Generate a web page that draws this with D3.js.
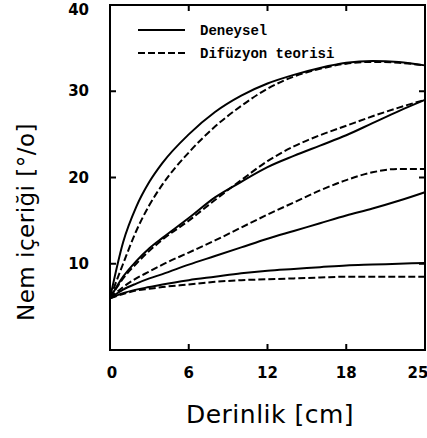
<!DOCTYPE html>
<html>
<head>
<meta charset="utf-8">
<script src="https://cdn.jsdelivr.net/npm/d3@7"></script>
<style>
  html, body { margin: 0; padding: 0; background: #fff; }
  svg { display: block; }
</style>
</head>
<body>
<div id="chart"></div>
<script>
// depth [cm] sampled along the curves
var depth = [0, 1, 2, 3, 4, 6, 8, 10, 12, 14, 16, 18, 20, 22, 24];

// moisture content [%] - experimental (solid) and diffusion theory (dashed)
var exp1 = [6, 12.5, 16.6, 19.5, 21.7, 25.0, 27.6, 29.5, 30.9, 31.9, 32.7, 33.3, 33.5, 33.4, 33.0];
var th1  = [6, 10.0, 13.8, 16.8, 19.2, 22.9, 25.9, 28.3, 30.3, 31.7, 32.6, 33.2, 33.4, 33.3, 33.0];
var exp2 = [6, 8.5, 10.3, 11.8, 13.0, 15.3, 17.7, 19.5, 21.2, 22.5, 23.7, 24.9, 26.3, 27.7, 29.0];
var th2  = [6, 8.3, 10.0, 11.5, 12.8, 15.0, 17.4, 19.7, 21.9, 23.6, 24.9, 26.0, 27.1, 28.1, 29.0];
var exp3 = [6, 7.0, 7.7, 8.3, 8.8, 9.9, 10.9, 11.9, 12.9, 13.8, 14.7, 15.6, 16.4, 17.3, 18.3];
var th3  = [6, 7.3, 8.3, 9.1, 9.9, 11.3, 12.7, 14.2, 15.7, 17.1, 18.5, 19.7, 20.6, 21.0, 21.0];
var exp4 = [6, 6.6, 7.0, 7.3, 7.6, 8.1, 8.5, 8.9, 9.2, 9.4, 9.6, 9.8, 9.9, 10.0, 10.1];
var th4  = [6, 6.5, 6.9, 7.1, 7.3, 7.6, 7.9, 8.1, 8.2, 8.3, 8.4, 8.5, 8.5, 8.5, 8.5];

var xTicks = [0, 6, 12, 18, 24];
var xTickLabels = ["0", "6", "12", "18", "25"];
var yTicks = [10, 20, 30, 40];
var yTickLabels = ["10", "20", "30", "40"];

var legendNames = ["Deneysel", "Difüzyon teorisi"];

var width = 427, height = 438;
var pLeft = 110, pRight = 425, pTop = 5, pBottom = 350;

var svg = d3.select("#chart").append("svg")
    .attr("width", width)
    .attr("height", height);

var x = d3.scaleLinear().domain([0, 24]).range([pLeft, pRight]);
var y = d3.scaleLinear().domain([0, 40]).range([pBottom, pTop]);

// frame
svg.append("rect")
    .attr("x", pLeft).attr("y", pTop)
    .attr("width", pRight - pLeft).attr("height", pBottom - pTop)
    .attr("fill", "none")
    .attr("stroke", "#000")
    .attr("stroke-width", 2);

// inward ticks on all four sides
var tk = 6;
var ticks = svg.append("g").attr("stroke", "#000").attr("stroke-width", 2);
xTicks.slice(1, 4).forEach(function(t) {
  ticks.append("line").attr("x1", x(t)).attr("x2", x(t)).attr("y1", pBottom).attr("y2", pBottom - tk);
  ticks.append("line").attr("x1", x(t)).attr("x2", x(t)).attr("y1", pTop).attr("y2", pTop + tk);
});
yTicks.slice(0, 3).forEach(function(t) {
  ticks.append("line").attr("x1", pLeft).attr("x2", pLeft + tk).attr("y1", y(t)).attr("y2", y(t));
  ticks.append("line").attr("x1", pRight).attr("x2", pRight - tk).attr("y1", y(t)).attr("y2", y(t));
});

// tick labels
svg.append("g").selectAll("text")
    .data(xTicks)
  .join("text")
    .attr("x", (d, i) => x(d) + (i == 0 ? 2 : 0) + (i == 4 ? -7 : 0))
    .attr("y", 378)
    .attr("text-anchor", "middle")
    .style("font", "bold 15px 'DejaVu Sans'")
    .text((d, i) => xTickLabels[i]);

svg.append("g").selectAll("text")
    .data(yTicks)
  .join("text")
    .attr("x", 89)
    .attr("y", d => Math.max(y(d) + 5, 15))
    .attr("text-anchor", "end")
    .style("font", "bold 15px 'DejaVu Sans'")
    .text((d, i) => yTickLabels[i]);

// axis titles
svg.append("text")
    .attr("x", 270).attr("y", 423)
    .attr("text-anchor", "middle")
    .style("font", "25px 'DejaVu Sans'")
    .style("letter-spacing", "0.5px")
    .text("Derinlik [cm]");

svg.append("text")
    .attr("transform", "translate(34,222) rotate(-90)")
    .attr("text-anchor", "middle")
    .style("font", "23px 'DejaVu Sans'")
    .style("letter-spacing", "0.5px")
    .text("Nem içeriği [°/o]");

// curves
var line = d3.line()
    .x((d, i) => x(depth[i]))
    .y(d => y(d))
    .curve(d3.curveMonotoneX);

var series = [
  {v: exp1, dash: null}, {v: th1, dash: "7,3"},
  {v: exp2, dash: null}, {v: th2, dash: "7,3"},
  {v: exp3, dash: null}, {v: th3, dash: "7,3"},
  {v: exp4, dash: null}, {v: th4, dash: "7,3"}
];

svg.append("g").selectAll("path")
    .data(series)
  .join("path")
    .attr("d", d => line(d.v))
    .attr("fill", "none")
    .attr("stroke", "#000")
    .attr("stroke-width", 2)
    .attr("stroke-dasharray", d => d.dash);

// legend
var legend = svg.append("g");
legendNames.forEach(function(name, i) {
  var ly = 30 + i * 23;
  legend.append("line")
      .attr("x1", 138).attr("x2", 185)
      .attr("y1", ly).attr("y2", ly)
      .attr("stroke", "#000")
      .attr("stroke-width", 2)
      .attr("stroke-dasharray", i == 0 ? null : "7,3");
  legend.append("text")
      .attr("x", 200).attr("y", ly + 5)
      .style("font", "bold 14px 'Liberation Mono'")
      .text(name);
});
</script>
</body>
</html>
